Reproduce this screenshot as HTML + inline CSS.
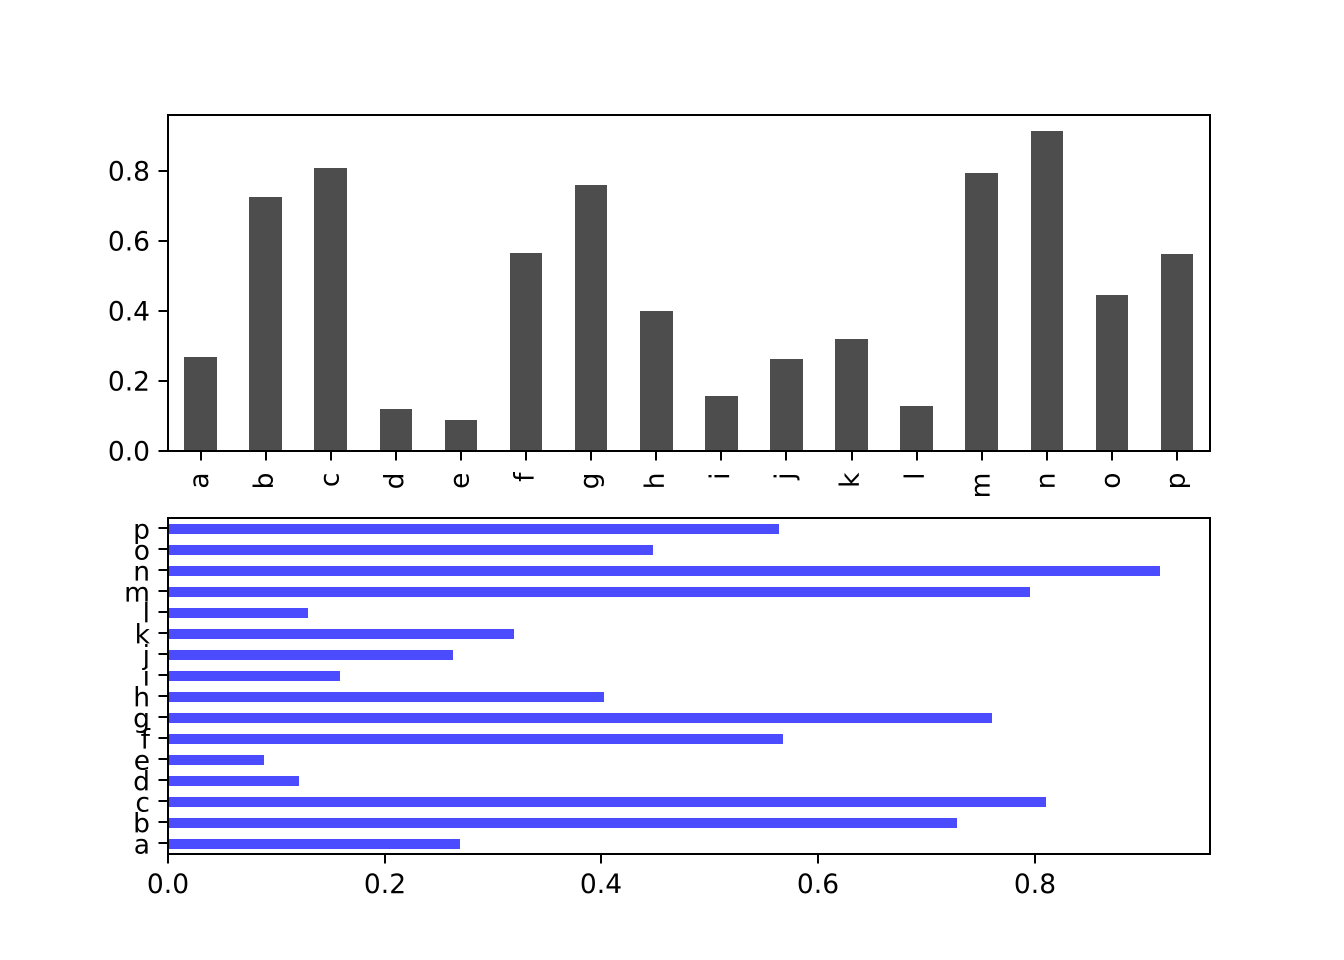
<!DOCTYPE html>
<html>
<head>
<meta charset="utf-8">
<title>Bar charts</title>
<style>
html,body{margin:0;padding:0;background:#fff;width:1344px;height:960px;overflow:hidden}
svg{display:block}
text{font-family:"DejaVu Sans","Liberation Sans",sans-serif;font-size:26.5px;fill:#000}
</style>
</head>
<body>
<svg id="chart" xmlns="http://www.w3.org/2000/svg" width="1344" height="960" viewBox="0 0 1344 960"></svg>
<script>
const categories = ['a','b','c','d','e','f','g','h','i','j','k','l','m','n','o','p'];
const seriesValues = [0.2697,0.7285,0.811,0.121,0.0887,0.568,0.761,0.4023,0.1585,0.2633,0.3196,0.1293,0.7963,0.9164,0.448,0.5644];
const valueTicks = [0.0,0.2,0.4,0.6,0.8];
const valueMax = 0.9623;

const svg = document.getElementById('chart');
const NS = 'http://www.w3.org/2000/svg';
const L = 168, R = 1210;
const topAxis = {t:115, b:451};
const botAxis = {t:518, b:854};
const band = (1209.6 - L) / categories.length;
const hBand = (botAxis.b - botAxis.t) / categories.length;
const TICK = 9.5;

function xCat(i){ return L + band * (i + 0.5); }
function yVal(v){ return topAxis.b - (v / valueMax) * (topAxis.b - topAxis.t); }
function yCat(i){ return botAxis.b - hBand * (i + 0.5); }
function xVal(v){ return L + (v / valueMax) * (R - L); }

function mk(tag, attrs, parent){
  const el = document.createElementNS(NS, tag);
  for (const k in attrs) el.setAttribute(k, attrs[k]);
  (parent || svg).appendChild(el);
  return el;
}
function tick(x1,y1,x2,y2,parent){
  return mk('line',{x1:x1,y1:y1,x2:x2,y2:y2,stroke:'#000','stroke-width':2},parent);
}

/* top vertical bar chart */
const g1 = mk('g',{});


categories.forEach(function(c,i){
  const w = band * 0.5;
  const x0 = Math.round(xCat(i)-w/2), x1 = Math.round(xCat(i)+w/2);
  const yTop = Math.round(yVal(seriesValues[i]));
  const b = mk('rect',{x:x0,y:yTop,width:x1-x0,height:topAxis.b-yTop,fill:'#4d4d4d'},g1);
  
  
  const tx = Math.round(xCat(i));
  const t = tick(tx,topAxis.b,tx,topAxis.b+TICK,g1);
  
  
  const x = xCat(i)+7.5, y = 472.5;
  const lb = mk('text',{x:x,y:y,'text-anchor':'end',transform:'rotate(-90 '+x+' '+y+')'},g1);
  lb.textContent = c;
  
  
});
valueTicks.forEach(function(v){
  const ty = Math.floor(yVal(v));
  const t = tick(L-TICK,ty,L,ty,g1);
  
  
  const lb = mk('text',{x:150,y:ty+9.3,'text-anchor':'end'},g1);
  lb.textContent = v.toFixed(1);
  
  
});
const f1 = mk('rect',{x:L,y:topAxis.t,width:R-L,height:topAxis.b-topAxis.t,fill:'none',stroke:'#000','stroke-width':2},g1);



/* bottom horizontal bar chart */
const g2 = mk('g',{});


categories.forEach(function(c,i){
  const h = hBand * 0.5;
  const y0 = Math.ceil(yCat(i)-h/2), y1 = Math.ceil(yCat(i)+h/2);
  const b = mk('rect',{x:L,y:y0,width:Math.round(xVal(seriesValues[i]))-L,height:y1-y0,fill:'#4c4cff'},g2);
  
  
  const ty = Math.floor(yCat(i));
  const t = tick(L-TICK,ty,L,ty,g2);
  
  
  const lb = mk('text',{x:150,y:ty+10.5,'text-anchor':'end'},g2);
  lb.textContent = c;
  
  
});
valueTicks.forEach(function(v){
  const tx = Math.round(xVal(v)+0.3);
  const t = tick(tx,botAxis.b,tx,botAxis.b+TICK,g2);
  
  
  const lb = mk('text',{x:tx,y:893,'text-anchor':'middle'},g2);
  lb.textContent = v.toFixed(1);
  
  
});
const f2 = mk('rect',{x:L,y:botAxis.t,width:R-L,height:botAxis.b-botAxis.t,fill:'none',stroke:'#000','stroke-width':2},g2);


</script>
</body>
</html>
